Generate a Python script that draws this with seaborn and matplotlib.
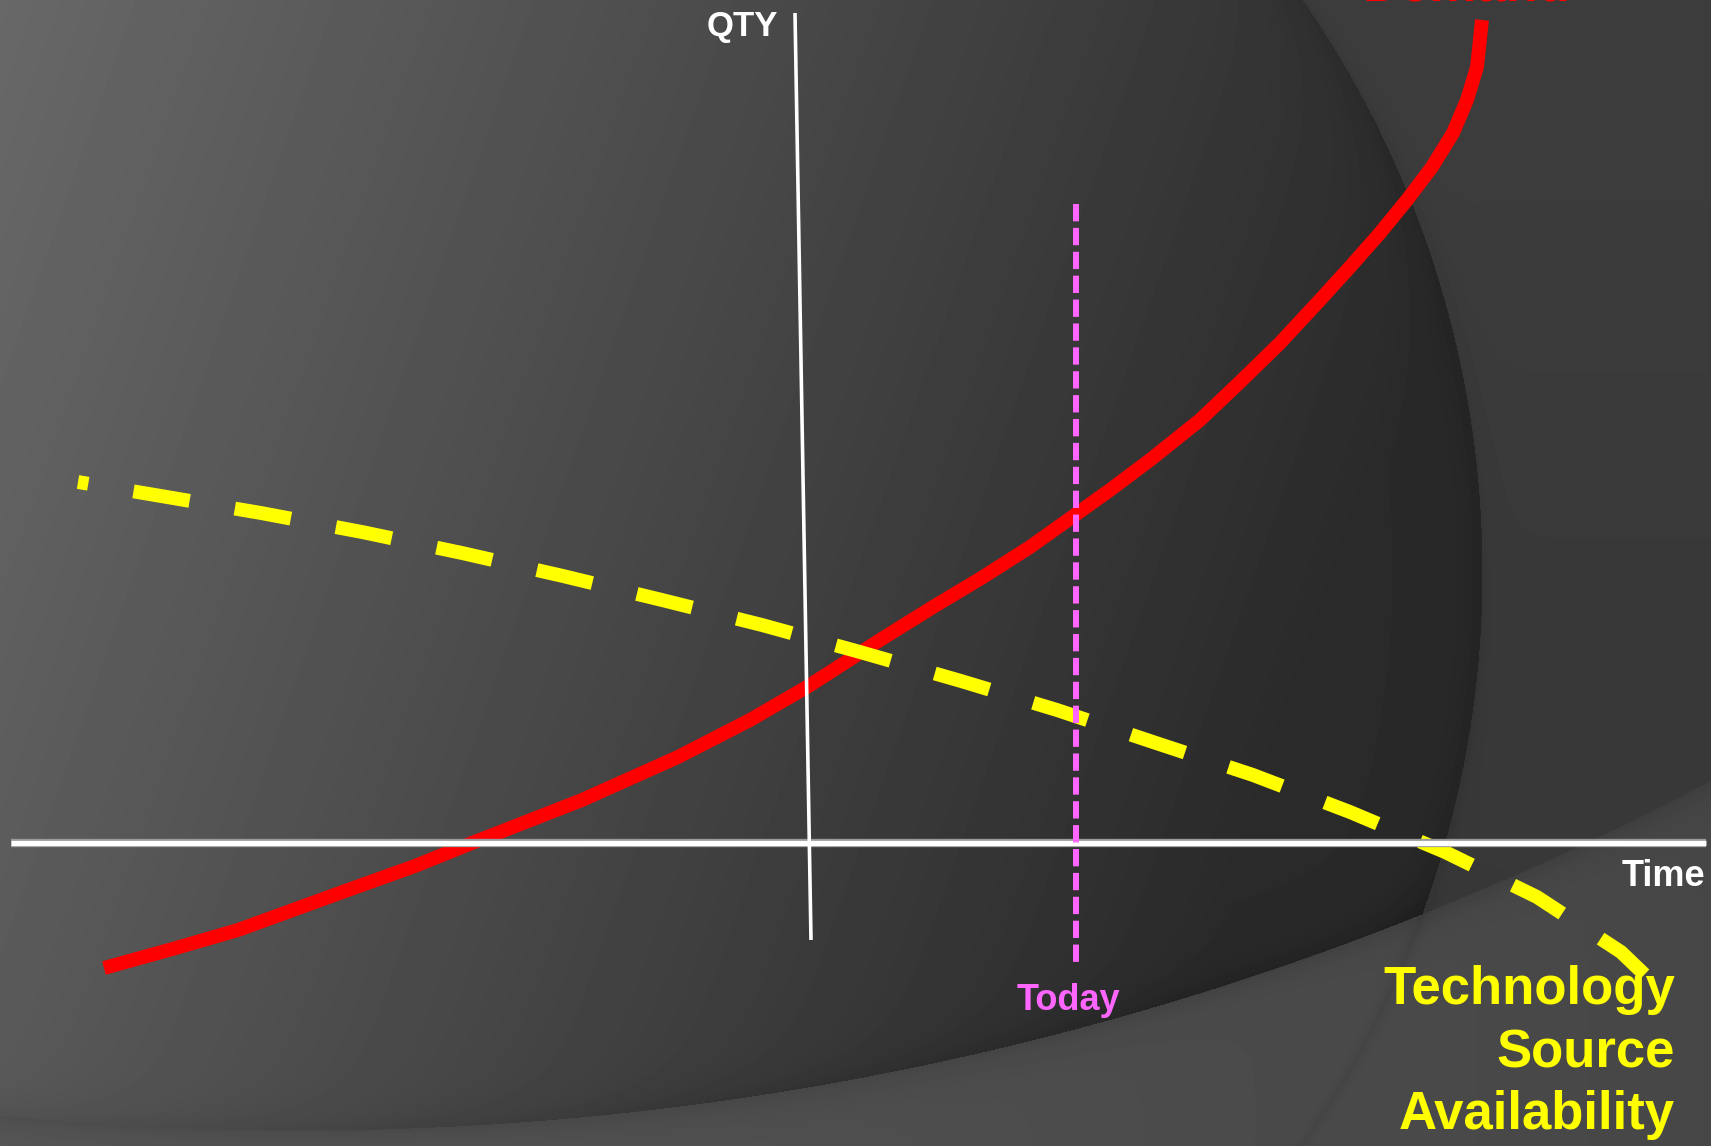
import numpy as np
import pandas as pd
import matplotlib
matplotlib.use("Agg")
import matplotlib.pyplot as plt
import seaborn as sns


# ── Data (time / qty units, origin where the two axes cross) ────────────────

DEMAND_T = [-6.96, -6.24, -5.62, -4.52, -3.85, -3.28, -2.18, -1.22, -0.50,
            0.07, 0.80, 1.33, 1.83, 2.30, 2.75, 3.10, 3.50, 4.00, 4.40,
            4.80, 5.20, 5.50, 5.80, 6.07, 6.32, 6.53, 6.67, 6.77, 6.82]
DEMAND_Q = [-1.25, -1.05, -0.87, -0.47, -0.23, 0.00, 0.43, 0.86, 1.23,
            1.56, 2.03, 2.36, 2.66, 2.96, 3.28, 3.53, 3.83, 4.23, 4.61,
            5.00, 5.43, 5.76, 6.10, 6.43, 6.76, 7.10, 7.43, 7.76, 8.23]

SUPPLY_T = [-7.22, -6.39, -5.39, -4.38, -3.38, -2.37, -1.38, -0.38, 0.60,
            1.61, 2.57, 3.56, 4.53, 5.50, 6.45, 7.37, 8.21, 8.45]
SUPPLY_Q = [3.61, 3.47, 3.30, 3.11, 2.90, 2.67, 2.43, 2.18, 1.91,
            1.62, 1.33, 1.00, 0.68, 0.31, -0.09, -0.54, -1.09, -1.32]

TIME_AXIS_T = [-7.89, 9.06]
TIME_AXIS_Q = [0.0, 0.0]
QTY_AXIS_T = [-0.05, 0.11]
QTY_AXIS_Q = [8.30, -0.97]
TODAY_T = [2.76, 2.76]
TODAY_Q = [6.39, -1.22]

SUPPLY_LABEL = ["Technology", "Source", "Availability"]

# view limits (figure edges)
X_MIN, X_MAX = -8.00, 9.11
Y_MIN, Y_MAX = -3.03, 8.43
W, H = 1711, 1146


# ── Background (slide theme: gradient + two big arcs) ──────────────────────

gx, gy = np.meshgrid(np.arange(W), np.arange(H))
d1 = np.hypot(gx - 482, gy - 572)
d2 = np.hypot(gx - 300, gy + 1889)
r1, r2 = 1000, 3019
in1 = d1 < r1
in2 = d2 < r2

bg = np.full((H, W), 80.0)
main = in1 & in2
grad = 104 - 0.040 * gx - 0.014 * gy
bg[main] = np.clip(grad, 42, 255)[main]
bg[main] -= (6 * np.exp(-(r1 - d1) / 25))[main]
bg[main] -= (7 * np.exp(-(r2 - d2) / 20))[main]

right = in2 & ~in1
bg[right] = (61 - 0.006 * gy)[right]
bg[right] -= (4 * np.exp(-(d1 - r1) / 10))[right]

low = ~in2
bg[low] = (86 - 0.009 * gx)[low]
bg[low] -= (9 * np.exp(-(d2 - r2) / 15))[low]
bg[low] -= (6 * np.exp(-np.abs(d1 - r1) / 6))[low]


# ── Plot ─────────────────────────────────────────────────────────────────────

sns.set_theme(style="dark")
plt.rcParams["font.family"] = ["Liberation Sans", "DejaVu Sans"]

fig = plt.figure(figsize=(17.11, 11.46), dpi=100)
ax = fig.add_axes([0, 0, 1, 1])
ax.imshow(bg, cmap="gray", vmin=0, vmax=255, aspect="auto",
          extent=[X_MIN, X_MAX, Y_MIN, Y_MAX], origin="upper",
          interpolation="bilinear", zorder=0)

demand = pd.DataFrame({"t": DEMAND_T, "q": DEMAND_Q})
supply = pd.DataFrame({"t": SUPPLY_T, "q": SUPPLY_Q})


def draw(x, y, color, lw, z, dash=None):
    sns.lineplot(x=x, y=y, sort=False, estimator=None, color=color,
                 ax=ax, zorder=z)
    line = ax.lines[-1]
    line.set_linewidth(lw)
    line.set_solid_capstyle("butt")
    line.set_solid_joinstyle("round")
    if dash is not None:
        line.set_linestyle(dash)
        line.set_dash_capstyle("butt")
    return line


draw(demand["t"], demand["q"], "#FF0000", 10.0, 2)
draw(supply["t"], supply["q"], "#FFFF00", 10.0, 3, dash=(3.35, (4.1, 3.3)))

# axes
draw(TIME_AXIS_T, TIME_AXIS_Q, "#9a9a9a", 6.0, 4)
draw(TIME_AXIS_T, TIME_AXIS_Q, "white", 3.8, 4)
draw(QTY_AXIS_T, QTY_AXIS_Q, "white", 2.6, 4)

# today marker
draw(TODAY_T, TODAY_Q, "#FF66FF", 4.3, 5, dash=(0, (2.9, 1.1)))

# labels
ax.text(-0.22, 8.16, "QTY", color="white", fontsize=25, fontweight="bold",
        ha="right", va="center")
ax.text(9.05, -0.33, "Time", color="white", fontsize=26, fontweight="bold",
        ha="right", va="center")
ax.text(2.68, -1.57, "Today", color="#FF66FF", fontsize=26,
        fontweight="bold", ha="center", va="center")
for q, word in zip([-1.47, -2.10, -2.72], SUPPLY_LABEL):
    ax.text(8.75, q, word, color="#FFFF00", fontsize=38, fontweight="bold",
            ha="right", va="center")
ax.text(6.67, 8.425, "Demand", color="#FF0000", fontsize=38,
        fontweight="bold", ha="center", va="baseline", clip_on=False)

ax.set_xlim(X_MIN, X_MAX)
ax.set_ylim(Y_MIN, Y_MAX)
ax.set_axis_off()
if ax.get_legend() is not None:
    ax.get_legend().remove()

fig.savefig("out.png", dpi=100)
